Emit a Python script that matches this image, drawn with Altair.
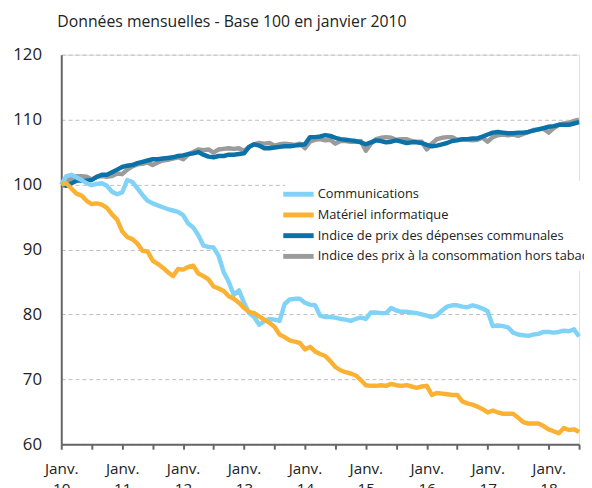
import altair as alt
import pandas as pd

series_names = [
    "Communications",
    "Matériel informatique",
    "Indice de prix des dépenses communales",
    "Indice des prix à la consommation hors tabac",
]
series_colors = ["#80D3F6", "#FBB132", "#0A72A8", "#9B9B9B"]

# monthly index, Jan 2010 (0) .. Jul 2018 (102)
communications = [
    100.0, 101.3, 101.5, 101.1, 100.7, 100.2, 99.9, 100.1, 100.2, 99.8,
    98.9, 98.5, 98.8, 100.7, 100.4, 99.4, 98.4, 97.5, 97.1, 96.8,
    96.5, 96.2, 96.0, 95.8, 95.3, 94.0, 93.4, 92.2, 90.6, 90.4,
    90.3, 89.0, 86.5, 85.0, 83.0, 83.7, 81.8, 80.2, 79.6, 78.4,
    79.0, 79.3, 79.2, 79.0, 81.6, 82.3, 82.4, 82.4, 81.8, 81.5,
    81.4, 79.8, 79.6, 79.6, 79.5, 79.3, 79.2, 79.0, 79.3, 79.5,
    79.3, 80.3, 80.3, 80.2, 80.2, 81.0, 80.6, 80.4, 80.4, 80.3,
    80.2, 80.0, 79.8, 79.6, 79.9, 80.6, 81.2, 81.4, 81.4, 81.2,
    81.1, 81.4, 81.2, 80.9, 80.5, 78.2, 78.3, 78.2, 78.0, 77.2,
    76.9, 76.8, 76.7, 76.9, 77.0, 77.3, 77.3, 77.2, 77.3, 77.5,
    77.4, 77.7, 76.6,
]
materiel = [
    100.0, 100.2, 99.4, 98.6, 98.3, 97.5, 97.0, 97.1, 96.9, 96.4,
    95.4, 94.6, 92.8, 91.9, 91.6, 90.9, 89.8, 89.7, 88.3, 87.8,
    87.2, 86.5, 85.9, 87.0, 86.9, 87.3, 87.5, 86.3, 85.9, 85.4,
    84.3, 84.0, 83.6, 82.8, 82.4, 81.8, 81.0, 80.4, 80.2, 79.7,
    79.2, 78.7, 78.1, 76.9, 76.5, 76.0, 75.8, 75.6, 74.6, 75.0,
    74.3, 73.9, 73.6, 72.8, 71.9, 71.4, 71.1, 70.9, 70.6, 69.9,
    69.1, 69.0, 69.0, 69.1, 69.0, 69.3, 69.1, 69.0, 69.1, 68.9,
    68.7, 68.9, 69.0, 67.6, 67.9, 67.8, 67.7, 67.6, 67.6, 66.6,
    66.3, 66.1, 65.8, 65.4, 64.9, 65.2, 64.9, 64.7, 64.7, 64.7,
    64.1, 63.4, 63.2, 63.2, 63.2, 62.8, 62.3, 62.0, 61.7, 62.5,
    62.2, 62.3, 61.9,
]
depenses_communales = [
    100.0, 99.8, 100.2, 100.6, 100.6, 100.6, 100.7, 101.2, 101.5, 101.5,
    101.9, 102.3, 102.7, 102.9, 103.0, 103.3, 103.5, 103.7, 103.9, 103.9,
    104.0, 104.1, 104.2, 104.4, 104.5, 104.7, 104.8, 105.0, 104.6, 104.3,
    104.2, 104.4, 104.4, 104.6, 104.6, 104.7, 104.8, 105.8, 106.2, 106.0,
    105.6, 105.6, 105.7, 105.8, 105.9, 105.9, 106.0, 106.1, 106.2, 107.3,
    107.3, 107.4, 107.6, 107.5, 107.2, 107.0, 106.9, 106.8, 106.7, 106.5,
    106.2, 106.5, 106.8, 106.7, 106.5, 106.6, 106.8, 106.6, 106.4, 106.5,
    106.5, 106.4, 106.1, 105.9, 106.0, 106.2, 106.4, 106.7, 106.8, 107.0,
    107.0, 107.1, 107.1, 107.4, 107.7, 108.0, 108.1, 108.0, 107.9, 107.9,
    108.0, 108.0, 108.1, 108.3, 108.5, 108.7, 108.9, 109.0, 109.2, 109.2,
    109.2, 109.4, 109.6,
]
ipc_hors_tabac = [
    100.0, 100.5, 101.0, 101.3, 101.3, 101.2, 100.8, 101.2, 101.3, 101.2,
    101.3, 101.7, 101.6, 102.3, 102.8, 103.1, 103.2, 103.4, 103.0, 103.4,
    103.7, 103.8, 104.0, 104.2, 103.9, 104.6, 105.0, 105.4, 105.3, 105.4,
    104.9, 105.4, 105.5, 105.6, 105.5, 105.6, 105.2, 105.8, 106.2, 106.4,
    106.3, 106.4, 106.0, 106.2, 106.3, 106.2, 106.1, 106.3, 105.6, 106.6,
    106.9, 107.0, 106.8, 106.9, 106.3, 106.7, 106.7, 106.6, 106.6, 106.7,
    105.2, 106.3, 107.0, 107.2, 107.3, 107.2, 106.9, 107.0, 107.0, 106.7,
    106.6, 106.6, 105.4, 106.3, 107.0, 107.2, 107.3, 107.3, 106.9, 106.9,
    106.9, 106.8, 106.9, 107.2, 106.6, 107.3, 107.6, 107.7, 107.6, 107.7,
    107.5, 107.8, 108.1, 108.4, 108.5, 108.6, 108.0, 108.7, 109.2, 109.4,
    109.5, 109.8, 110.0,
]

x_tick_values = list(range(0, 103, 6))
y_tick_values = [60, 70, 80, 90, 100, 110, 120]

series_values = [communications, materiel, depenses_communales, ipc_hors_tabac]
rows = []
for name, vals in zip(series_names, series_values):
    for m, v in enumerate(vals):
        rows.append({"mois": m, "valeur": v, "serie": name})
df = pd.DataFrame(rows)

FONT = "Open Sans"

color_scale = alt.Scale(domain=series_names, range=series_colors)
x_enc = alt.X(
    "mois:Q",
    scale=alt.Scale(domain=[0, 102], nice=False, zero=False),
    axis=alt.Axis(
        title=None,
        values=x_tick_values,
        labelExpr="datum.value % 12 == 0 ? ['Janv.', '' + (10 + datum.value / 12)] : ''",
        grid=False,
        domainColor="#666666",
        domainWidth=2,
        tickColor="#666666",
        tickWidth=2,
        tickSize=5,
        labelFont=FONT,
        labelFontSize=15.5,
        labelColor="#222222",
        labelPadding=13,
        labelLineHeight=20,
        labelOverlap=False,
        labelFlush=False,
    ),
)
y_enc = alt.Y(
    "valeur:Q",
    scale=alt.Scale(domain=[60, 120], nice=False, zero=False),
    axis=alt.Axis(
        title=None,
        values=y_tick_values,
        grid=True,
        gridColor="#BDBDBD",
        gridDash=[4, 3],
        gridWidth=1,
        ticks=False,
        domainColor="#666666",
        domainWidth=2,
        labelFont=FONT,
        labelFontSize=17,
        labelColor="#222222",
        labelPadding=20,
    ),
)

legend = alt.Legend(
    title=None,
    orient="none",
    legendX=227,
    legendY=128,
    symbolType="M-2.2,0H2.2",
    symbolSize=196,
    symbolStrokeWidth=5,
    labelFont=FONT,
    labelFontSize=13,
    labelColor="#222222",
    labelOffset=10,
    labelLimit=400,
    rowPadding=0,
    padding=4,
    fillColor="white",
)

draw_order = [
    "Indice des prix à la consommation hors tabac",
    "Indice de prix des dépenses communales",
    "Communications",
    "Matériel informatique",
]

layers = []
for i, name in enumerate(draw_order):
    layer = (
        alt.Chart(df)
        .transform_filter(alt.datum.serie == name)
        .mark_line(strokeWidth=4.5, strokeJoin="round", strokeCap="butt")
        .encode(
            x=x_enc,
            y=y_enc,
            color=alt.Color(
                "serie:N",
                scale=color_scale,
                legend=legend if i == 0 else None,
            ),
        )
    )
    layers.append(layer)

chart = (
    alt.layer(*layers)
    .properties(
        width=525,
        height=395,
        padding={"left": 54, "top": 44, "right": 5, "bottom": 41},
        autosize=alt.AutoSizeParams(type="none"),
        title=alt.TitleParams(
            "Données mensuelles - Base 100 en janvier 2010",
            anchor="start",
            frame="group",
            font=FONT,
            fontSize=16,
            fontWeight="normal",
            color="#222222",
            dx=-4,
            offset=16,
        ),
    )
    .configure_view(stroke=None)
    .configure(background="white")
)

chart.save("out.html", embed_options={"renderer": "svg", "actions": False})
